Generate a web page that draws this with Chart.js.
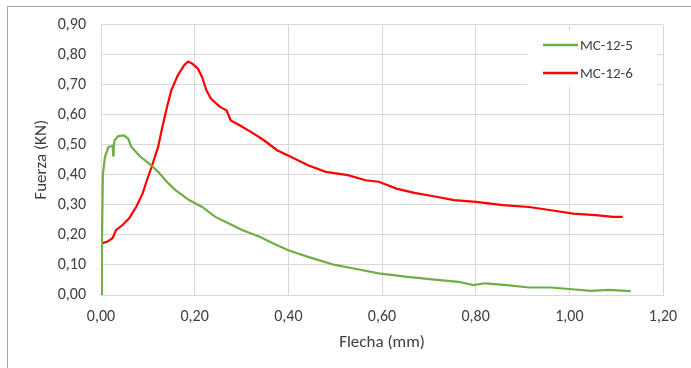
<!DOCTYPE html>
<html>
<head>
<meta charset="utf-8">
<script src="https://cdn.jsdelivr.net/npm/chart.js@4.4.1/dist/chart.umd.min.js"></script>
<style>
  html, body { margin: 0; padding: 0; background: #fff; }
  #wrap { position: relative; width: 691px; height: 368px; }
  #frame { position: absolute; left: 7px; top: 6px; right: 0; bottom: -2px;
           border-left: 1px solid #a6a6a6; border-top: 1px solid #a6a6a6; }
  canvas { position: absolute; left: 0; top: 0; }
</style>
</head>
<body>
<div id="wrap">
  <div id="frame"></div>
  <canvas id="chart" width="691" height="368"></canvas>
</div>
<script>
// Flecha (mm) / Fuerza (KN) readings for both specimens
const flecha5 = [0, 0.002, 0.004, 0.0085, 0.016, 0.022, 0.025, 0.026, 0.027, 0.029, 0.037, 0.049, 0.058, 0.065,
  0.084, 0.103, 0.122, 0.141, 0.159, 0.188, 0.216, 0.244, 0.273, 0.301, 0.339, 0.367, 0.40, 0.442,
  0.499, 0.537, 0.593, 0.65, 0.707, 0.763, 0.796, 0.82, 0.867, 0.914, 0.961, 0.999, 1.046, 1.084, 1.131];
const fuerza5 = [0, 0.17, 0.40, 0.46, 0.493, 0.495, 0.497, 0.465, 0.49, 0.515, 0.529, 0.531, 0.52, 0.493,
  0.46, 0.437, 0.41, 0.376, 0.349, 0.316, 0.293, 0.26, 0.238, 0.216, 0.194, 0.172, 0.149, 0.127,
  0.10, 0.089, 0.072, 0.061, 0.052, 0.044, 0.033, 0.039, 0.033, 0.025, 0.025, 0.02, 0.014, 0.017, 0.013];

const flecha6 = [0, 0.001, 0.013, 0.025, 0.032, 0.046, 0.06, 0.075, 0.089, 0.098, 0.108, 0.122, 0.131, 0.141,
  0.15, 0.164, 0.178, 0.186, 0.195, 0.207, 0.216, 0.225, 0.235, 0.254, 0.268, 0.277, 0.296, 0.32,
  0.348, 0.376, 0.405, 0.442, 0.48, 0.527, 0.565, 0.593, 0.631, 0.669, 0.716, 0.754, 0.801, 0.858,
  0.914, 0.961, 1.008, 1.056, 1.093, 1.114];
const fuerza6 = [0, 0.172, 0.177, 0.19, 0.216, 0.233, 0.255, 0.293, 0.338, 0.382, 0.426, 0.493, 0.559, 0.626,
  0.681, 0.731, 0.766, 0.777, 0.77, 0.753, 0.725, 0.681, 0.653, 0.626, 0.615, 0.581, 0.565, 0.543,
  0.515, 0.482, 0.46, 0.432, 0.41, 0.399, 0.382, 0.377, 0.354, 0.34, 0.327, 0.316, 0.31, 0.299,
  0.293, 0.282, 0.271, 0.266, 0.26, 0.26];

const seriesNames = ['MC-12-5', 'MC-12-6'];
const seriesColors = ['#70ad47', '#ff0000'];

const FONT = 'Carlito, Calibri, Lato, sans-serif';
const TEXT = '#404040';
const GRID = '#d9d9d9';

function pairs(xs, ys) { return xs.map((x, i) => ({ x: x, y: ys[i] })); }
function comma(v) { return v.toFixed(2).replace('.', ','); }

// legend box sitting inside the plot, top right
const boxLegend = {
  id: 'boxLegend',
  afterDraw(chart) {
    const ctx = chart.ctx;
    ctx.save();
    ctx.fillStyle = '#fff';
    ctx.fillRect(527, 30, 130, 57);
    ctx.font = '15px ' + FONT;
    ctx.textBaseline = 'middle';
    ctx.textAlign = 'left';
    chart.data.datasets.forEach((ds, i) => {
      const y = 45 + i * 28;
      ctx.strokeStyle = ds.borderColor;
      ctx.lineWidth = 2.5;
      ctx.beginPath();
      ctx.moveTo(543, y);
      ctx.lineTo(578, y);
      ctx.stroke();
      ctx.fillStyle = TEXT;
      ctx.fillText(ds.label, 580, y + 1);
    });
    ctx.restore();
  }
};

new Chart(document.getElementById('chart').getContext('2d'), {
  type: 'line',
  data: {
    datasets: [
      { label: seriesNames[0], data: pairs(flecha5, fuerza5), borderColor: seriesColors[0] },
      { label: seriesNames[1], data: pairs(flecha6, fuerza6), borderColor: seriesColors[1] }
    ]
  },
  options: {
    responsive: false,
    animation: false,
    layout: { padding: { top: 24, right: 28, left: 0, bottom: 0 } },
    elements: {
      point: { radius: 0 },
      line: { borderWidth: 2.2, tension: 0 }
    },
    plugins: {
      legend: { display: false },
      tooltip: { enabled: false }
    },
    scales: {
      x: {
        type: 'linear',
        min: 0, max: 1.2,
        afterFit: (s) => { s.height = 73; },
        grid: { color: GRID, drawTicks: false },
        border: { color: GRID },
        ticks: { stepSize: 0.2, padding: 12, color: TEXT, font: { family: FONT, size: 16 },
                 callback: (v) => comma(v) },
        title: { display: true, text: 'Flecha (mm)', color: TEXT,
                 font: { family: FONT, size: 17 }, padding: { top: 0, bottom: 15 } }
      },
      y: {
        min: 0, max: 0.9,
        afterFit: (s) => { s.width = 101; },
        grid: { color: GRID, drawTicks: false },
        border: { color: GRID },
        ticks: { stepSize: 0.1, padding: 15, color: TEXT, font: { family: FONT, size: 16 },
                 callback: (v) => comma(v) },
        title: { display: true, text: 'Fuerza (KN)', color: TEXT,
                 font: { family: FONT, size: 17 }, padding: { top: 32, bottom: 0 } }
      }
    }
  },
  plugins: [boxLegend]
});
</script>
</body>
</html>
